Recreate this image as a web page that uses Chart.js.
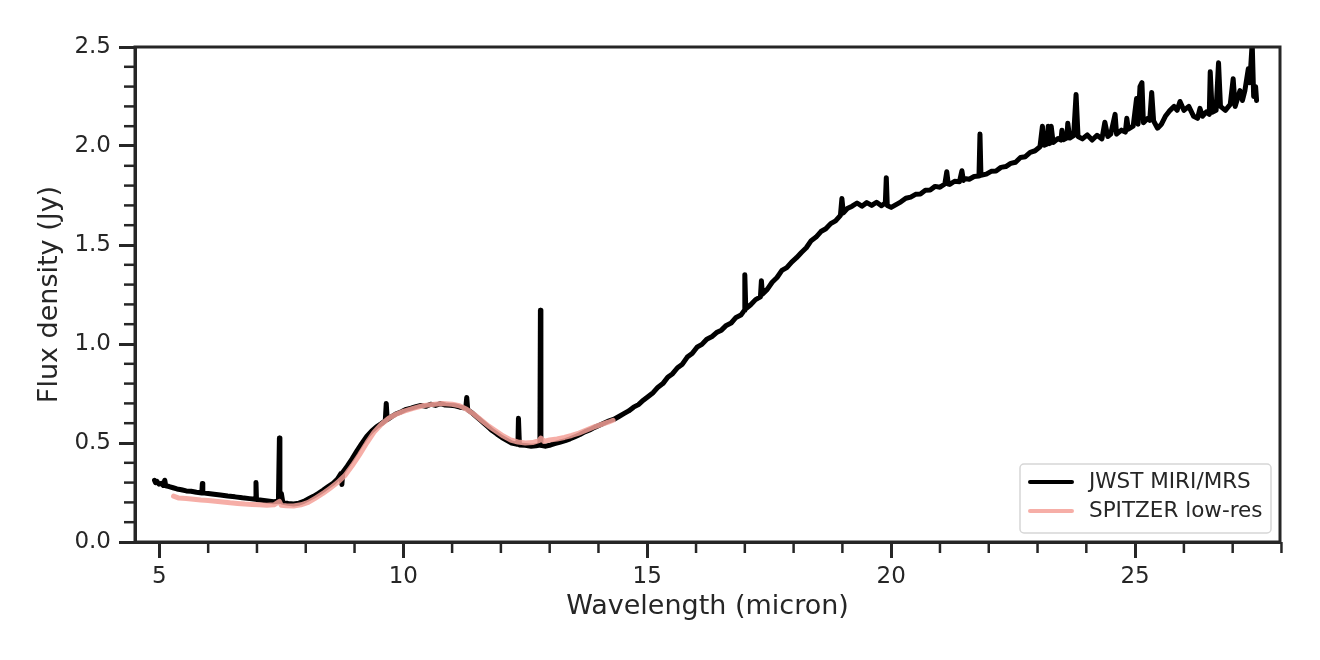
<!DOCTYPE html>
<html>
<head>
<meta charset="utf-8">
<script src="https://cdn.jsdelivr.net/npm/chart.js@4.4.1/dist/chart.umd.min.js"></script>
<style>
  html, body { margin: 0; padding: 0; background: #fff; }
  #wrap { width: 1320px; height: 660px; }
</style>
</head>
<body>
<div id="wrap"><canvas id="spectrum"></canvas></div>
<script>
// JWST MIRI/MRS spectrum (micron, Jy)
const jwstWave = [
  4.90, 4.92, 4.95, 4.99, 5.04, 5.08, 5.11, 5.13, 5.20, 5.28, 5.36, 5.45, 5.55, 5.65, 5.76, 5.87, 5.88, 5.89,
  6.00, 6.12, 6.25, 6.40, 6.55, 6.70, 6.85, 6.97, 6.98, 6.99, 7.10, 7.22, 7.34, 7.44, 7.46, 7.47, 7.50, 7.53,
  7.64, 7.75, 7.86, 7.96, 8.06, 8.16, 8.26, 8.36, 8.46, 8.56, 8.65, 8.72, 8.74, 8.76, 8.85, 8.95,
  9.05, 9.15, 9.25, 9.35, 9.45, 9.55, 9.63, 9.65, 9.67, 9.76, 9.86, 9.96,
  10.06, 10.16, 10.26, 10.36, 10.46, 10.56, 10.66, 10.76, 10.86, 10.96, 11.06, 11.16, 11.28, 11.30, 11.32,
  11.42, 11.52, 11.62, 11.72, 11.82, 11.92, 12.02, 12.12, 12.22, 12.32, 12.35, 12.36, 12.38, 12.50, 12.62,
  12.72, 12.80, 12.81, 12.82, 12.92, 13.02, 13.12, 13.22, 13.32, 13.42, 13.52, 13.62, 13.72, 13.82, 13.92,
  14.02, 14.12, 14.22, 14.32, 14.42, 14.52, 14.62, 14.72, 14.82, 14.92, 15.02, 15.12, 15.22, 15.32, 15.42,
  15.52, 15.62, 15.72, 15.82, 15.92, 16.02, 16.12, 16.22, 16.32, 16.42, 16.52, 16.62, 16.72, 16.82, 16.92,
  16.99, 17.00, 17.02, 17.12, 17.22, 17.32, 17.34, 17.36, 17.46, 17.56, 17.66, 17.76, 17.86, 17.96,
  18.06, 18.16, 18.26, 18.36, 18.46, 18.56, 18.66, 18.76, 18.86, 18.96, 18.99, 19.02, 19.10, 19.20, 19.30,
  19.40, 19.50, 19.60, 19.70, 19.80, 19.88, 19.90, 19.92, 20.00, 20.10, 20.20, 20.30, 20.40, 20.50, 20.60,
  20.70, 20.80, 20.90, 21.00, 21.10, 21.14, 21.17, 21.20, 21.30, 21.40, 21.45, 21.48, 21.50, 21.60, 21.70,
  21.80, 21.82, 21.84, 21.95,
  22.05, 22.15, 22.25, 22.35, 22.45, 22.55, 22.65, 22.75, 22.85,
  22.95, 23.05, 23.10, 23.14, 23.20, 23.22, 23.25, 23.28, 23.32, 23.42,
  23.48, 23.50, 23.53, 23.60, 23.62, 23.66, 23.74, 23.79, 23.83, 23.92,
  24.02, 24.12, 24.22, 24.32, 24.38, 24.44, 24.50, 24.59, 24.62, 24.72,
  24.80, 24.83, 24.86, 24.96, 25.03, 25.06, 25.10, 25.14, 25.17, 25.26,
  25.30, 25.34, 25.38, 25.46, 25.54, 25.62, 25.70, 25.80, 25.86, 25.92,
  26.00, 26.10, 26.20, 26.28, 26.33, 26.38, 26.46, 26.52, 26.54, 26.58,
  26.66, 26.71, 26.75, 26.85, 26.95, 27.01, 27.05, 27.15, 27.20, 27.25,
  27.32, 27.35, 27.40, 27.43, 27.47, 27.49
];
const jwstFlux = [
  0.312, 0.300, 0.306, 0.292, 0.296, 0.286, 0.312, 0.284, 0.280, 0.274, 0.268, 0.264, 0.258, 0.256, 0.251, 0.248, 0.295, 0.249,
  0.245, 0.241, 0.237, 0.232, 0.228, 0.223, 0.219, 0.216, 0.300, 0.215, 0.211, 0.207, 0.203, 0.206, 0.525, 0.205, 0.245, 0.200,
  0.195, 0.192, 0.196, 0.205, 0.218, 0.231, 0.246, 0.262, 0.280, 0.297, 0.318, 0.345, 0.290, 0.352, 0.383, 0.420,
  0.460, 0.498, 0.533, 0.560, 0.582, 0.598, 0.612, 0.700, 0.618, 0.633, 0.648, 0.658,
  0.670, 0.676, 0.684, 0.690, 0.685, 0.696, 0.690, 0.699, 0.692, 0.690, 0.688, 0.681, 0.676, 0.730, 0.668,
  0.650, 0.628, 0.607, 0.585, 0.563, 0.545, 0.528, 0.514, 0.500, 0.494, 0.500, 0.625, 0.490, 0.488, 0.484,
  0.486, 0.490, 1.170, 0.488, 0.484, 0.490, 0.498, 0.505, 0.512, 0.521, 0.532, 0.543, 0.556, 0.566, 0.579,
  0.590, 0.601, 0.612, 0.620, 0.634, 0.648, 0.662, 0.681, 0.694, 0.716, 0.735, 0.754, 0.782, 0.800, 0.832,
  0.850, 0.880, 0.898, 0.934, 0.952, 0.984, 0.998, 1.024, 1.036, 1.058, 1.070, 1.094, 1.106, 1.134, 1.146,
  1.170, 1.350, 1.178, 1.198, 1.224, 1.238, 1.320, 1.252, 1.276, 1.312, 1.336, 1.372, 1.386, 1.414,
  1.436, 1.462, 1.486, 1.522, 1.540, 1.568, 1.582, 1.608, 1.622, 1.650, 1.735, 1.662, 1.684, 1.696, 1.712,
  1.696, 1.714, 1.700, 1.716, 1.698, 1.712, 1.840, 1.700, 1.690, 1.704, 1.718, 1.736, 1.742, 1.756, 1.758,
  1.776, 1.778, 1.796, 1.792, 1.808, 1.870, 1.808, 1.806, 1.822, 1.820, 1.875, 1.826, 1.836, 1.832, 1.846,
  1.848, 2.060, 1.852, 1.858,
  1.872, 1.874, 1.892, 1.896, 1.912, 1.918, 1.942, 1.946, 1.968,
  1.976, 1.996, 2.100, 2.004, 2.010, 2.100, 2.012, 2.100, 2.018, 2.038,
  2.030, 2.080, 2.032, 2.040, 2.115, 2.040, 2.052, 2.260, 2.048, 2.036,
  2.056, 2.030, 2.054, 2.036, 2.120, 2.048, 2.060, 2.160, 2.060, 2.080,
  2.070, 2.140, 2.085, 2.100, 2.240, 2.110, 2.300, 2.320, 2.118, 2.140,
  2.130, 2.270, 2.126, 2.090, 2.110, 2.150, 2.176, 2.200, 2.180, 2.225,
  2.180, 2.200, 2.150, 2.140, 2.190, 2.150, 2.172, 2.160, 2.375, 2.170,
  2.180, 2.420, 2.200, 2.180, 2.210, 2.340, 2.200, 2.280, 2.230, 2.280,
  2.390, 2.320, 2.520, 2.250, 2.300, 2.230
];

// Spitzer low-res spectrum
const spitzerWave = [
  5.29, 5.40, 5.55, 5.70, 5.85, 6.00, 6.15, 6.30, 6.45, 6.60, 6.75, 6.90, 7.05, 7.20, 7.35, 7.46, 7.50, 7.60,
  7.75, 7.90, 8.05, 8.20, 8.35, 8.50, 8.65, 8.80, 8.95, 9.10, 9.25, 9.40, 9.55, 9.70, 9.85, 10.00, 10.20,
  10.40, 10.60, 10.80, 11.00, 11.15, 11.30, 11.45, 11.60, 11.75, 11.90, 12.05, 12.20, 12.35, 12.50, 12.65,
  12.78, 12.82, 12.88, 13.00, 13.15, 13.30, 13.45, 13.60, 13.75, 13.90, 14.05, 14.20, 14.30
];
const spitzerFlux = [
  0.232, 0.222, 0.220, 0.216, 0.212, 0.210, 0.206, 0.202, 0.198, 0.195, 0.192, 0.190, 0.188, 0.186, 0.188, 0.205, 0.185, 0.183,
  0.182, 0.188, 0.200, 0.222, 0.245, 0.272, 0.300, 0.335, 0.385, 0.440, 0.500, 0.555, 0.595, 0.625, 0.645, 0.660, 0.675,
  0.688, 0.695, 0.700, 0.696, 0.688, 0.670, 0.645, 0.615, 0.585, 0.560, 0.535, 0.515, 0.505, 0.500, 0.502,
  0.512, 0.525, 0.508, 0.515, 0.520, 0.528, 0.538, 0.550, 0.565, 0.580, 0.593, 0.605, 0.615
];

const xTicks = [5, 10, 15, 20, 25];
const yTicks = [0, 0.5, 1.0, 1.5, 2.0, 2.5];
const xMinorTicks = [6, 7, 8, 9, 11, 12, 13, 14, 16, 17, 18, 19, 21, 22, 23, 24, 26, 27, 28];
const yMinorTicks = [0.1, 0.2, 0.3, 0.4, 0.6, 0.7, 0.8, 0.9, 1.1, 1.2, 1.3, 1.4,
  1.6, 1.7, 1.8, 1.9, 2.1, 2.2, 2.3, 2.4];

const seriesNames = ['JWST MIRI/MRS', 'SPITZER low-res'];

const INK = '#262626';
const FONT = "'DejaVu Sans', sans-serif";
const jwstColor = '#000000';
const spitzerColor = 'rgba(244, 160, 152, 0.85)';

const toPoints = (xs, ys) => xs.map((x, i) => ({ x: x, y: ys[i] }));

// frame, minor ticks and the legend box
const framePlugin = {
  id: 'frame',
  afterDraw(chart) {
    const { ctx, chartArea: a, scales } = chart;
    ctx.save();
    ctx.strokeStyle = INK;
    ctx.lineWidth = 2.5;
    ctx.lineCap = 'butt';
    xMinorTicks.forEach(v => {
      const px = scales.x.getPixelForValue(v);
      ctx.beginPath();
      ctx.moveTo(px, a.bottom);
      ctx.lineTo(px, a.bottom + 11);
      ctx.stroke();
    });
    yMinorTicks.forEach(v => {
      const py = scales.y.getPixelForValue(v);
      ctx.beginPath();
      ctx.moveTo(a.left, py);
      ctx.lineTo(a.left - 11, py);
      ctx.stroke();
    });
    ctx.lineWidth = 3;
    ctx.strokeRect(a.left, a.top, a.right - a.left, a.bottom - a.top);

    // legend
    const bx = 1020, by = 464, bw = 251, bh = 69;
    ctx.fillStyle = 'rgba(255,255,255,0.8)';
    ctx.strokeStyle = '#d6d6d6';
    ctx.lineWidth = 1.5;
    ctx.beginPath();
    ctx.roundRect(bx, by, bw, bh, 4);
    ctx.fill();
    ctx.stroke();
    const rows = [
      { name: seriesNames[0], color: jwstColor, y: 482 },
      { name: seriesNames[1], color: spitzerColor, y: 511 }
    ];
    ctx.font = '21.5px ' + FONT;
    ctx.textBaseline = 'middle';
    rows.forEach(r => {
      ctx.strokeStyle = r.color;
      ctx.lineWidth = 4;
      ctx.lineCap = 'round';
      ctx.beginPath();
      ctx.moveTo(1030, r.y);
      ctx.lineTo(1072, r.y);
      ctx.stroke();
      ctx.fillStyle = INK;
      ctx.fillText(r.name, 1089, r.y);
    });
    ctx.restore();
  }
};

new Chart(document.getElementById('spectrum'), {
  type: 'line',
  data: {
    datasets: [{
      label: seriesNames[0],
      data: toPoints(jwstWave, jwstFlux),
      borderColor: jwstColor,
      borderWidth: 5,
      borderJoinStyle: 'round',
      borderCapStyle: 'round',
      pointRadius: 0,
      tension: 0,
      order: 1
    }, {
      label: seriesNames[1],
      data: toPoints(spitzerWave, spitzerFlux),
      borderColor: spitzerColor,
      borderWidth: 5,
      borderJoinStyle: 'round',
      borderCapStyle: 'round',
      pointRadius: 0,
      tension: 0,
      order: 0
    }]
  },
  options: {
    responsive: true,
    maintainAspectRatio: false,
    animation: false,
    layout: { padding: { left: 0, top: 47, right: 40, bottom: 0 } },
    plugins: {
      legend: { display: false },
      tooltip: { enabled: false }
    },
    scales: {
      x: {
        type: 'linear',
        min: 4.5,
        max: 27.97,
        afterBuildTicks: s => { s.ticks = xTicks.map(v => ({ value: v })); },
        afterFit: s => { s.height = 118; },
        border: { display: true, color: INK, width: 3 },
        grid: { drawOnChartArea: false, drawTicks: true, tickLength: 16, tickWidth: 3, tickColor: INK },
        ticks: { color: INK, font: { family: FONT, size: 23 }, padding: 5, maxRotation: 0 },
        title: { display: true, text: 'Wavelength (micron)', color: INK,
          font: { family: FONT, size: 27 }, padding: { top: 0, bottom: 37 } }
      },
      y: {
        type: 'linear',
        min: 0,
        max: 2.5,
        afterBuildTicks: s => { s.ticks = yTicks.map(v => ({ value: v })); },
        afterFit: s => { s.width = 135; },
        border: { display: true, color: INK, width: 3 },
        grid: { drawOnChartArea: false, drawTicks: true, tickLength: 16, tickWidth: 3, tickColor: INK },
        ticks: { color: INK, font: { family: FONT, size: 23 }, padding: 8,
          callback: v => v.toFixed(1) },
        title: { display: true, text: 'Flux density (Jy)', color: INK,
          font: { family: FONT, size: 27 }, padding: { top: 34, bottom: 0 } }
      }
    }
  },
  plugins: [framePlugin]
});
</script>
</body>
</html>
